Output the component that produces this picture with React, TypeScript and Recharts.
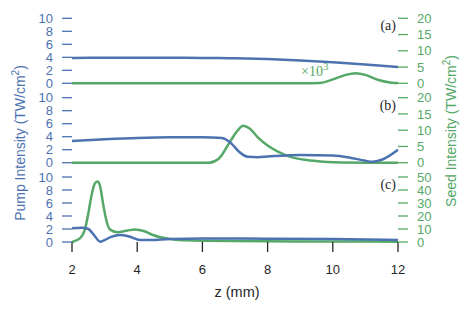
import { LineChart, Line, XAxis, YAxis } from 'recharts';

const BLUE = '#4c72b0';
const GREEN = '#55a868';

// panel (a)
const zPumpA = [2, 3, 4, 5, 6, 6.5, 7, 8, 9, 10, 11, 12];
const pumpA = [3.9, 3.92, 3.92, 3.92, 3.9, 3.88, 3.85, 3.72, 3.5, 3.22, 2.9, 2.52];
const zSeedA = [2, 9, 9.6, 10, 10.4, 10.7, 11, 11.4, 11.8, 12];
const seedA = [0, 0, 0.1, 1.2, 2.6, 3.1, 2.6, 1.0, 0.2, 0.1];

// panel (b)
const zPumpB = [2, 3, 4, 5, 6, 6.6, 6.9, 7.1, 7.4, 7.7, 8, 9, 10, 10.5, 11, 11.2, 11.5, 12];
const pumpB = [3.35, 3.6, 3.8, 3.9, 3.9, 3.8, 2.9, 1.8, 0.9, 0.85, 0.95, 1.2, 1.1, 0.8, 0.3, 0.15, 0.45, 2.0];
const zSeedB = [2, 6.2, 6.5, 6.85, 7.05, 7.25, 7.45, 7.7, 8.0, 8.3, 8.7, 9.2, 9.7, 10.3, 12];
const seedB = [0, 0, 1.2, 6.5, 9.5, 11.4, 10.5, 7.8, 5.3, 3.5, 1.8, 0.8, 0.3, 0.05, 0];

// panel (c)
const zPumpC = [2, 2.3, 2.5, 2.7, 2.86, 3.0, 3.2, 3.47, 3.75, 4.09, 4.4, 5, 6, 8, 10, 12];
const pumpC = [2.1, 2.2, 2.0, 0.9, 0.05, 0.3, 0.8, 1.08, 0.85, 0.3, 0.3, 0.46, 0.55, 0.5, 0.45, 0.3];
const zSeedC = [2, 2.25, 2.4, 2.5, 2.6, 2.7, 2.78, 2.85, 2.97, 3.07, 3.17, 3.4, 3.7, 3.93, 4.2, 4.48, 5, 5.5, 6, 8, 10, 12];
const seedC = [0, 3, 10, 22, 36, 45, 46.5, 44, 27, 15, 9.5, 7.5, 8.8, 9.7, 8.5, 5.4, 2.3, 1.3, 0.9, 0.5, 0.35, 0.25];

const pumpTicks = [0, 2, 4, 6, 8, 10];
const seedTicksAB = [0, 5, 10, 15, 20];
const seedTicksC = [0, 10, 20, 30, 40, 50];
const zTicks = [2, 4, 6, 8, 10, 12];

const W = 471;
const H = 313;

const pts = (zs: number[], vs: number[]) => zs.map((z, i) => ({ z, v: vs[i] }));

type PanelProps = {
  top: number;
  bottom: number;
  pump: { z: number; v: number }[];
  seed: { z: number; v: number }[];
  seedTicks: number[];
  showX?: boolean;
};

function Panel({ top, bottom, pump, seed, seedTicks, showX }: PanelProps) {
  const xH = showX ? 30 : 0;
  return (
    <LineChart
      width={W}
      height={H}
      margin={{ top, bottom: H - bottom - xH, left: 0, right: 0 }}
      style={{ position: 'absolute', left: 0, top: 0 }}
    >
      <XAxis
        dataKey='z'
        type='number'
        domain={[2, 12]}
        ticks={zTicks}
        hide={!showX}
        height={xH}
        axisLine={false}
        tickSize={10}
        tickMargin={13}
        tickLine={{ stroke: '#262626', strokeWidth: 1.3 }}
        tick={{ fill: '#262626', fontSize: 13 }}
        allowDuplicatedCategory={false}
      />
      <YAxis
        yAxisId='pump'
        orientation='left'
        width={72}
        domain={[0, 10]}
        ticks={pumpTicks}
        axisLine={false}
        tickSize={10}
        tickMargin={9}
        tickLine={{ stroke: BLUE, strokeWidth: 1.3 }}
        tick={{ fill: BLUE, fontSize: 13 }}
        interval={0}
      />
      <YAxis
        yAxisId='seed'
        orientation='right'
        width={73}
        domain={[0, seedTicks[seedTicks.length - 1]]}
        ticks={seedTicks}
        axisLine={false}
        tickSize={10}
        tickMargin={9}
        tickLine={{ stroke: GREEN, strokeWidth: 1.3 }}
        tick={{ fill: GREEN, fontSize: 13 }}
        interval={0}
      />
      <Line
        yAxisId='seed'
        data={seed}
        dataKey='v'
        type='monotone'
        stroke={GREEN}
        strokeWidth={2.5}
        dot={false}
        isAnimationActive={false}
      />
      <Line
        yAxisId='pump'
        data={pump}
        dataKey='v'
        type='monotone'
        stroke={BLUE}
        strokeWidth={2.5}
        dot={false}
        isAnimationActive={false}
      />
    </LineChart>
  );
}

export default function App() {
  return (
    <div
      style={{
        position: 'absolute',
        left: 0,
        top: 0,
        width: W,
        height: H,
        background: '#fff',
        fontFamily: '"Liberation Sans", Arial, sans-serif',
      }}
    >
      <Panel top={18.3} bottom={83.3} pump={pts(zPumpA, pumpA)} seed={pts(zSeedA, seedA)} seedTicks={seedTicksAB} />
      <Panel top={97.7} bottom={162.7} pump={pts(zPumpB, pumpB)} seed={pts(zSeedB, seedB)} seedTicks={seedTicksAB} />
      <Panel top={177} bottom={242} pump={pts(zPumpC, pumpC)} seed={pts(zSeedC, seedC)} seedTicks={seedTicksC} showX />
      <svg width={W} height={H} style={{ position: 'absolute', left: 0, top: 0, pointerEvents: 'none' }}>
        <g fontFamily='"Liberation Serif", serif' fontSize={14} fill='#262626' textAnchor='end' dominantBaseline='central'>
          <text x={396} y={25}>(a)</text>
          <text x={396} y={105}>(b)</text>
          <text x={396} y={184.5}>(c)</text>
        </g>
        <text x={301} y={76} fontFamily='"Liberation Serif", serif' fontSize={14} fill={GREEN}>
          ×10<tspan dy={-6} fontSize={11}>3</tspan>
        </text>
        <text x={237} y={292} textAnchor='middle' dominantBaseline='central' fontSize={14.5} fill='#262626'>
          z (mm)
        </text>
        <text
          transform='translate(20,143) rotate(-90)'
          textAnchor='middle'
          dominantBaseline='central'
          fontSize={14}
          fill={BLUE}
        >
          Pump Intensity (TW/cm<tspan dy={-5} fontSize={10}>2</tspan><tspan dy={5}>)</tspan>
        </text>
        <text
          transform='translate(451,131) rotate(-90)'
          textAnchor='middle'
          dominantBaseline='central'
          fontSize={14}
          fill={GREEN}
        >
          Seed Intensity (TW/cm<tspan dy={-5} fontSize={10}>2</tspan><tspan dy={5}>)</tspan>
        </text>
      </svg>
    </div>
  );
}
